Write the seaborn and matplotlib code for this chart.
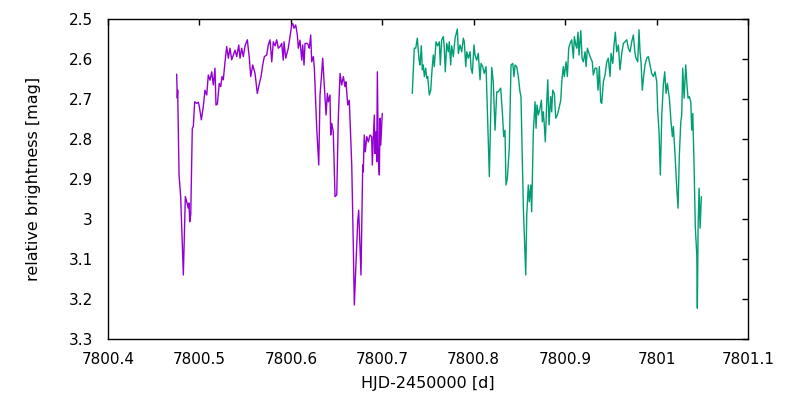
import numpy as np
import pandas as pd
import matplotlib
matplotlib.use("Agg")
import matplotlib.pyplot as plt
import seaborn as sns
from matplotlib.ticker import FormatStrFormatter, MultipleLocator

# --- first night (purple) ---
hjd_1 = [
    7800.4751, 7800.4758, 7800.4762, 7800.4777, 7800.4795, 7800.4824, 7800.4846, 7800.4861,
    7800.4878, 7800.4886, 7800.4894, 7800.4905, 7800.4922, 7800.4933, 7800.4948, 7800.4970,
    7800.4988, 7800.4999, 7800.5021, 7800.5042, 7800.5061, 7800.5080, 7800.5097, 7800.5116,
    7800.5134, 7800.5152, 7800.5170, 7800.5181, 7800.5196, 7800.5217, 7800.5233, 7800.5247,
    7800.5261, 7800.5280, 7800.5298, 7800.5316, 7800.5334, 7800.5353, 7800.5371, 7800.5389,
    7800.5408, 7800.5430, 7800.5444, 7800.5462, 7800.5480, 7800.5499, 7800.5524, 7800.5546,
    7800.5561, 7800.5583, 7800.5608, 7800.5633, 7800.5652, 7800.5674, 7800.5692, 7800.5710,
    7800.5736, 7800.5753, 7800.5772, 7800.5791, 7800.5808, 7800.5827, 7800.5845, 7800.5863,
    7800.5881, 7800.5900, 7800.5917, 7800.5925, 7800.5944, 7800.5972, 7800.6009, 7800.6020,
    7800.6034, 7800.6053, 7800.6071, 7800.6082, 7800.6100, 7800.6119, 7800.6130, 7800.6144,
    7800.6155, 7800.6180, 7800.6191, 7800.6202, 7800.6217, 7800.6228, 7800.6246, 7800.6257,
    7800.6283, 7800.6305, 7800.6319, 7800.6337, 7800.6348, 7800.6366, 7800.6385, 7800.6399,
    7800.6410, 7800.6428, 7800.6436, 7800.6447, 7800.6464, 7800.6483, 7800.6502, 7800.6519,
    7800.6538, 7800.6556, 7800.6574, 7800.6592, 7800.6603, 7800.6622, 7800.6639, 7800.6666,
    7800.6683, 7800.6694, 7800.6713, 7800.6731, 7800.6742, 7800.6756, 7800.6767, 7800.6786,
    7800.6792, 7800.6803, 7800.6814, 7800.6830, 7800.6847, 7800.6866, 7800.6884, 7800.6891,
    7800.6902, 7800.6913, 7800.6920, 7800.6931, 7800.6939, 7800.6946, 7800.6957, 7800.6968,
    7800.6975, 7800.6983, 7800.6994, 7800.7000,
]
mag_1 = [
    2.638, 2.698, 2.678, 2.890, 2.944, 3.140, 2.944, 2.957,
    2.973, 2.960, 3.007, 2.990, 2.773, 2.769, 2.707, 2.711,
    2.708, 2.719, 2.752, 2.719, 2.678, 2.690, 2.640, 2.653,
    2.632, 2.665, 2.623, 2.715, 2.713, 2.661, 2.669, 2.644,
    2.652, 2.607, 2.569, 2.598, 2.573, 2.602, 2.590, 2.578,
    2.594, 2.565, 2.598, 2.573, 2.594, 2.567, 2.552, 2.598,
    2.644, 2.615, 2.636, 2.686, 2.665, 2.644, 2.615, 2.594,
    2.590, 2.565, 2.552, 2.607, 2.557, 2.567, 2.552, 2.573,
    2.569, 2.561, 2.603, 2.557, 2.598, 2.573, 2.515, 2.511,
    2.523, 2.515, 2.540, 2.573, 2.553, 2.603, 2.565, 2.615,
    2.561, 2.561, 2.565, 2.573, 2.540, 2.607, 2.594, 2.623,
    2.773, 2.865, 2.690, 2.636, 2.598, 2.665, 2.740, 2.686,
    2.707, 2.690, 2.790, 2.761, 2.782, 2.944, 2.940, 2.748,
    2.636, 2.665, 2.644, 2.669, 2.657, 2.715, 2.703, 2.865,
    3.065, 3.215, 3.107, 3.007, 2.978, 3.065, 3.140, 2.865,
    2.882, 2.790, 2.832, 2.794, 2.807, 2.790, 2.794, 2.865,
    2.798, 2.740, 2.836, 2.782, 2.857, 2.632, 2.848, 2.890,
    2.748, 2.815, 2.765, 2.736,
]

# --- second night (green) ---
hjd_2 = [
    7800.7328, 7800.7350, 7800.7366, 7800.7383, 7800.7402, 7800.7413, 7800.7427, 7800.7438,
    7800.7449, 7800.7460, 7800.7475, 7800.7486, 7800.7497, 7800.7514, 7800.7530, 7800.7544,
    7800.7558, 7800.7569, 7800.7588, 7800.7606, 7800.7624, 7800.7635, 7800.7650, 7800.7668,
    7800.7678, 7800.7689, 7800.7705, 7800.7722, 7800.7733, 7800.7748, 7800.7759, 7800.7777,
    7800.7796, 7800.7821, 7800.7832, 7800.7850, 7800.7869, 7800.7886, 7800.7897, 7800.7913,
    7800.7924, 7800.7941, 7800.7960, 7800.7971, 7800.7985, 7800.8003, 7800.8014, 7800.8033,
    7800.8050, 7800.8069, 7800.8080, 7800.8098, 7800.8116, 7800.8135, 7800.8153, 7800.8171,
    7800.8197, 7800.8214, 7800.8233, 7800.8252, 7800.8269, 7800.8295, 7800.8313, 7800.8328,
    7800.8342, 7800.8353, 7800.8368, 7800.8389, 7800.8408, 7800.8427, 7800.8441, 7800.8452,
    7800.8470, 7800.8488, 7800.8506, 7800.8517, 7800.8543, 7800.8569, 7800.8580, 7800.8597,
    7800.8608, 7800.8624, 7800.8634, 7800.8652, 7800.8671, 7800.8682, 7800.8692, 7800.8707,
    7800.8725, 7800.8740, 7800.8750, 7800.8761, 7800.8772, 7800.8783, 7800.8799, 7800.8810,
    7800.8824, 7800.8842, 7800.8853, 7800.8864, 7800.8882, 7800.8897, 7800.8915, 7800.8933,
    7800.8952, 7800.8963, 7800.8980, 7800.8991, 7800.9010, 7800.9024, 7800.9039, 7800.9054,
    7800.9072, 7800.9090, 7800.9101, 7800.9116, 7800.9127, 7800.9141, 7800.9152, 7800.9171,
    7800.9185, 7800.9199, 7800.9218, 7800.9229, 7800.9243, 7800.9261, 7800.9280, 7800.9297,
    7800.9308, 7800.9327, 7800.9346, 7800.9360, 7800.9374, 7800.9389, 7800.9400, 7800.9418,
    7800.9436, 7800.9455, 7800.9472, 7800.9491, 7800.9502, 7800.9521, 7800.9535, 7800.9549,
    7800.9564, 7800.9582, 7800.9600, 7800.9619, 7800.9637, 7800.9655, 7800.9674, 7800.9691,
    7800.9710, 7800.9728, 7800.9746, 7800.9764, 7800.9775, 7800.9794, 7800.9808, 7800.9819,
    7800.9830, 7800.9844, 7800.9860, 7800.9874, 7800.9892, 7800.9910, 7800.9929, 7800.9947,
    7800.9965, 7800.9983, 7801.0002, 7801.0013, 7801.0027, 7801.0041, 7801.0057, 7801.0074,
    7801.0089, 7801.0104, 7801.0118, 7801.0140, 7801.0158, 7801.0173, 7801.0184, 7801.0202,
    7801.0221, 7801.0235, 7801.0249, 7801.0265, 7801.0275, 7801.0286, 7801.0301, 7801.0319,
    7801.0330, 7801.0344, 7801.0359, 7801.0374, 7801.0385, 7801.0396, 7801.0410, 7801.0424,
    7801.0440, 7801.0446, 7801.0454, 7801.0465, 7801.0476, 7801.0490,
]
mag_2 = [
    2.686, 2.573, 2.573, 2.548, 2.602, 2.615, 2.567, 2.627,
    2.615, 2.644, 2.623, 2.648, 2.644, 2.690, 2.678, 2.627,
    2.590, 2.619, 2.557, 2.567, 2.557, 2.615, 2.552, 2.544,
    2.573, 2.632, 2.561, 2.582, 2.557, 2.615, 2.567, 2.594,
    2.548, 2.525, 2.586, 2.565, 2.582, 2.548, 2.557, 2.619,
    2.582, 2.598, 2.582, 2.623, 2.636, 2.565, 2.590, 2.603,
    2.586, 2.652, 2.611, 2.619, 2.636, 2.619, 2.757, 2.894,
    2.621, 2.657, 2.778, 2.682, 2.682, 2.673, 2.732, 2.794,
    2.778, 2.915, 2.898, 2.823, 2.615, 2.611, 2.644, 2.615,
    2.619, 2.644, 2.682, 2.694, 2.973, 3.140, 2.990, 2.915,
    2.957, 2.915, 2.982, 2.782, 2.707, 2.773, 2.715, 2.740,
    2.723, 2.703, 2.757, 2.732, 2.765, 2.807, 2.707, 2.652,
    2.765, 2.694, 2.732, 2.678, 2.686, 2.748, 2.740, 2.723,
    2.703, 2.657, 2.619, 2.644, 2.607, 2.644, 2.573, 2.561,
    2.552, 2.598, 2.544, 2.565, 2.573, 2.533, 2.590, 2.529,
    2.598, 2.607, 2.582, 2.619, 2.573, 2.586, 2.598, 2.607,
    2.640, 2.623, 2.623, 2.678, 2.619, 2.707, 2.711, 2.657,
    2.640, 2.607, 2.598, 2.644, 2.586, 2.611, 2.565, 2.533,
    2.582, 2.565, 2.627, 2.586, 2.561, 2.557, 2.552, 2.573,
    2.582, 2.557, 2.540, 2.586, 2.598, 2.607, 2.527, 2.582,
    2.607, 2.678, 2.640, 2.615, 2.598, 2.594, 2.615, 2.636,
    2.644, 2.632, 2.657, 2.732, 2.782, 2.890, 2.740, 2.665,
    2.632, 2.686, 2.661, 2.698, 2.757, 2.794, 2.769, 2.840,
    2.923, 2.973, 2.840, 2.757, 2.740, 2.623, 2.698, 2.615,
    2.657, 2.698, 2.694, 2.707, 2.778, 2.736, 2.865, 3.023,
    3.090, 3.223, 3.023, 2.923, 3.023, 2.944,
]

nights = ["night 1", "night 2"]
colors = ["#9400d3", "#009e73"]

df = pd.concat([
    pd.DataFrame({"hjd": hjd_1, "mag": mag_1, "night": nights[0]}),
    pd.DataFrame({"hjd": hjd_2, "mag": mag_2, "night": nights[1]}),
], ignore_index=True)

sns.set_style("white")
plt.rcParams["font.family"] = ["DejaVu Sans"]

fig = plt.figure(figsize=(8, 4), dpi=100)
ax = fig.add_axes([0.135, 0.1525, 0.80, 0.80])

sns.lineplot(data=df, x="hjd", y="mag", hue="night", palette=dict(zip(nights, colors)),
             estimator=None, sort=False, linewidth=1.0, legend=False, ax=ax)

ax.set_xlim(7800.4, 7801.1)
ax.set_ylim(3.3, 2.5)
ax.xaxis.set_major_locator(MultipleLocator(0.1))
ax.yaxis.set_major_locator(MultipleLocator(0.1))
ax.xaxis.set_major_formatter(FormatStrFormatter("%g"))
ax.yaxis.set_major_formatter(FormatStrFormatter("%g"))
ax.tick_params(direction="in", length=4, width=1, top=True, right=True,
               labelsize=11, colors="black")
ax.tick_params(axis="x", pad=9)
ax.tick_params(axis="y", pad=11)

for s in ax.spines.values():
    s.set_color("black")
    s.set_linewidth(1)

ax.set_xlabel("HJD-2450000 [d]", fontsize=11.5, color="black")
ax.set_ylabel("relative brightness [mag]", fontsize=11.5, color="black")
ax.xaxis.set_label_coords(0.5, -0.115)
ax.yaxis.set_label_coords(-0.105, 0.5)

fig.savefig("out.png", dpi=100)
